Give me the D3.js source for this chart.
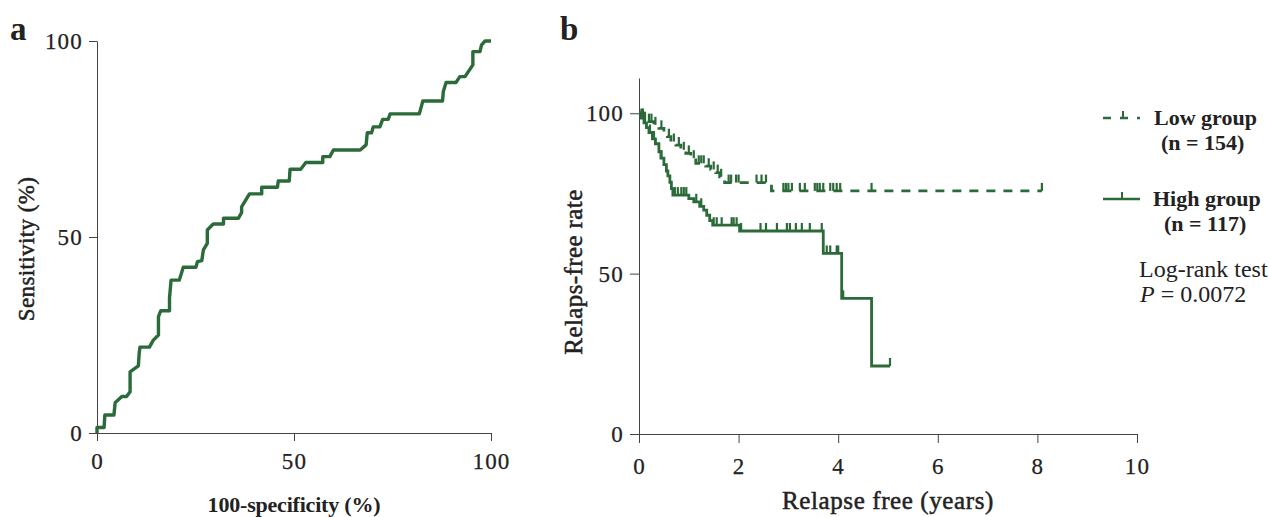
<!DOCTYPE html>
<html>
<head>
<meta charset="utf-8">
<script src="https://cdn.jsdelivr.net/npm/d3@7"></script>
<style>
  body { margin: 0; background: #fff; }
  svg text { font-family: "Liberation Serif", "Times New Roman", serif; fill: #222; }
  .axis path, .axis line { stroke: #444; stroke-width: 1; }
  .axis text { font-size: 23px; letter-spacing: 1.2px; stroke: #222; stroke-width: 0.25; }
  .title { stroke: #222; stroke-width: 0.5; }
</style>
</head>
<body>
<div id="chart"></div>
<script>
// panel a: ROC curve (100-specificity %, sensitivity %)
const rocFpr = [0, 0, 1.8, 2.0, 4.3, 4.6, 6.3, 7.5, 8.4, 8.4, 10.5, 10.7, 10.9, 13.3, 14.3, 15.6, 15.6, 16.2, 18.4, 18.4, 18.8, 20.9, 21.9, 25.1, 25.5, 26.6, 27, 28, 28, 29.5, 32.1, 32.1, 35.9, 36.7, 36.7, 38.7, 41.8, 41.8, 45.8, 46, 48.8, 49, 51.7, 53, 57.3, 57.3, 59.1, 60, 66.8, 68.3, 68.6, 69.7, 70.1, 71.8, 72.5, 73.9, 74.4, 81.8, 82.7, 87.7, 87.9, 88.6, 91.1, 92.1, 93.4, 95.4, 95.4, 97.2, 97.6, 98.5, 100];
const rocTpr = [0, 1.4, 1.4, 4.6, 4.6, 7.7, 9.3, 9.3, 10.5, 15.6, 17.1, 20.3, 21.9, 21.9, 23.7, 25, 29.7, 31.2, 31.2, 34.4, 39, 39, 42.3, 42.3, 43.7, 44, 46.7, 48.4, 51.8, 53.3, 53.3, 54.8, 54.8, 56.2, 57.7, 61, 61, 62.7, 62.7, 64.3, 64.3, 67.3, 67.3, 69, 69, 70.5, 70.5, 72.2, 72.2, 73.5, 76.6, 76.6, 78.1, 78.1, 80, 80, 81.4, 81.4, 84.7, 84.7, 87.1, 89.4, 89.4, 90.9, 90.9, 93.9, 97.3, 97.3, 99, 100, 100];
const rocTicks = [0, 50, 100];

// panel b: Kaplan-Meier steps (years, rate)
const lowTimes = [0, 0.05, 0.1, 0.17, 0.3, 0.4, 0.5, 0.57, 0.64, 0.74, 0.84, 0.94, 1.04, 1.14, 1.34, 1.44, 1.54, 1.62, 1.72, 2.66, 8.09];
const lowRates = [100, 99, 98, 97.4, 96.4, 95.3, 94.3, 92.7, 91.2, 90.1, 88.6, 87.5, 86, 84.4, 83.5, 82.5, 81.5, 80.2, 78.4, 75.8, 75.8];
const lowCensor = [0.05, 0.08, 0.12, 0.2, 0.25, 0.33, 0.45, 0.6, 0.7, 0.8, 0.9, 1.0, 1.1, 1.2, 1.25, 1.3, 1.4, 1.5, 1.58, 1.65, 1.8, 1.85, 1.95, 2.0, 2.36, 2.46, 2.55, 2.9, 2.95, 3.0, 3.07, 3.23, 3.33, 3.53, 3.58, 3.63, 3.7, 3.84, 3.9, 3.97, 4.04, 4.67, 8.09];
const highTimes = [0, 0.04, 0.1, 0.15, 0.2, 0.27, 0.33, 0.4, 0.44, 0.5, 0.55, 0.58, 0.62, 0.65, 0.68, 1.0, 1.1, 1.22, 1.3, 1.36, 1.42, 1.48, 2.02, 3.7, 4.07, 4.67, 5.04];
const highRates = [100, 98.5, 97, 95.5, 94, 92, 90.5, 88, 86, 84, 82, 80.5, 78.5, 76.5, 74.5, 73.4, 72.4, 71, 69.8, 68.2, 66.5, 65.1, 63.3, 56.3, 42.3, 21.2, 21.2];
const highCensor = [0.05, 0.12, 0.22, 0.3, 0.45, 0.72, 0.78, 0.85, 0.9, 0.95, 1.15, 1.25, 1.5, 1.56, 1.66, 1.86, 1.9, 1.96, 2.05, 2.44, 2.55, 2.77, 2.97, 3.03, 3.15, 3.27, 3.43, 3.67, 3.77, 3.84, 3.97, 4.0, 4.1, 5.04];
const kmXTicks = [0, 2, 4, 6, 8, 10];
const kmYTicks = [0, 50, 100];

const green = "#2b6a39";
const svg = d3.select("#chart").append("svg").attr("width", 1269).attr("height", 517);

// ---- panel a
const xA = d3.scaleLinear().domain([0, 100]).range([97, 491]);
const yA = d3.scaleLinear().domain([0, 100]).range([433, 41]);

svg.append("g").attr("class", "axis").attr("transform", "translate(0,433)")
  .call(d3.axisBottom(xA).tickValues(rocTicks).tickSize(8).tickSizeOuter(0).tickPadding(12));
svg.append("g").attr("class", "axis").attr("transform", "translate(97,0)")
  .call(d3.axisLeft(yA).tickValues(rocTicks).tickSize(8).tickSizeOuter(0).tickPadding(6));

svg.append("path")
  .datum(d3.zip(rocFpr, rocTpr))
  .attr("fill", "none").attr("stroke", green).attr("stroke-width", 3.4).attr("stroke-linejoin", "round")
  .attr("d", d3.line().x(d => xA(d[0])).y(d => yA(d[1])));

svg.append("text").text("a").attr("x", 10).attr("y", 40).attr("font-size", 33).attr("font-weight", "bold");
svg.append("text").attr("class", "title").text("Sensitivity (%)").attr("transform", "translate(34,249) rotate(-90)")
  .attr("text-anchor", "middle").attr("font-size", 23).attr("letter-spacing", 0.4);
svg.append("text").text("100-specificity (%)").attr("x", 294).attr("y", 512)
  .attr("text-anchor", "middle").attr("font-size", 22).attr("font-weight", "bold").attr("letter-spacing", -0.2);

// ---- panel b
const xB = d3.scaleLinear().domain([0, 10]).range([639, 1137]);
const yB = d3.scaleLinear().domain([0, 111]).range([434, 78]);

svg.append("g").attr("class", "axis").attr("transform", "translate(0,434)")
  .call(d3.axisBottom(xB).tickValues(kmXTicks).tickSize(9).tickSizeOuter(0).tickPadding(15));
svg.append("g").attr("class", "axis").attr("transform", "translate(639,0)")
  .call(d3.axisLeft(yB).tickValues(kmYTicks).tickSize(9).tickSizeOuter(0).tickPadding(6));

const stepLine = d3.line().curve(d3.curveStepAfter).x(d => xB(d[0])).y(d => yB(d[1]));
const rateAt = (times, rates, t) => rates[Math.max(0, d3.bisectRight(times, t) - 1)];

svg.append("path").datum(d3.zip(lowTimes, lowRates))
  .attr("fill", "none").attr("stroke", green).attr("stroke-width", 2.8).attr("stroke-dasharray", "9,8")
  .attr("d", stepLine);
svg.append("path").datum(d3.zip(highTimes, highRates))
  .attr("fill", "none").attr("stroke", green).attr("stroke-width", 2.8)
  .attr("d", stepLine);

svg.append("g").selectAll("line").data(lowCensor).join("line")
  .attr("x1", d => xB(d)).attr("x2", d => xB(d))
  .attr("y1", d => yB(rateAt(lowTimes, lowRates, d))).attr("y2", d => yB(rateAt(lowTimes, lowRates, d)) - 8)
  .attr("stroke", green).attr("stroke-width", 2.2);
svg.append("g").selectAll("line").data(highCensor).join("line")
  .attr("x1", d => xB(d)).attr("x2", d => xB(d))
  .attr("y1", d => yB(rateAt(highTimes, highRates, d))).attr("y2", d => yB(rateAt(highTimes, highRates, d)) - 8)
  .attr("stroke", green).attr("stroke-width", 2.2);

svg.append("text").text("b").attr("x", 560).attr("y", 40).attr("font-size", 33).attr("font-weight", "bold");
svg.append("text").attr("class", "title").text("Relaps-free rate").attr("transform", "translate(582,272) rotate(-90)")
  .attr("text-anchor", "middle").attr("font-size", 25).attr("letter-spacing", 0.4);
svg.append("text").attr("class", "title").text("Relapse free (years)").attr("x", 888).attr("y", 509)
  .attr("text-anchor", "middle").attr("font-size", 25).attr("letter-spacing", 0.6);

// legend
const legend = svg.append("g").attr("font-size", 22);
legend.append("line").attr("x1", 1103).attr("x2", 1140).attr("y1", 118).attr("y2", 118)
  .attr("stroke", green).attr("stroke-width", 2.6).attr("stroke-dasharray", "8,9");
legend.append("line").attr("x1", 1123).attr("x2", 1123).attr("y1", 118).attr("y2", 111)
  .attr("stroke", green).attr("stroke-width", 2);
legend.append("text").text("Low group").attr("x", 1154).attr("y", 125).attr("font-weight", "bold");
legend.append("text").text("(n = 154)").attr("x", 1161).attr("y", 150).attr("font-weight", "bold");
legend.append("line").attr("x1", 1103).attr("x2", 1140).attr("y1", 199).attr("y2", 199)
  .attr("stroke", green).attr("stroke-width", 2.6);
legend.append("line").attr("x1", 1122).attr("x2", 1122).attr("y1", 199).attr("y2", 192)
  .attr("stroke", green).attr("stroke-width", 2);
legend.append("text").text("High group").attr("x", 1153).attr("y", 206).attr("font-weight", "bold");
legend.append("text").text("(n = 117)").attr("x", 1164).attr("y", 231).attr("font-weight", "bold");
legend.append("text").text("Log-rank test").attr("x", 1139).attr("y", 277).attr("font-size", 24);
const pText = legend.append("text").attr("x", 1140).attr("y", 302).attr("font-size", 24);
pText.append("tspan").text("P").attr("font-style", "italic");
pText.append("tspan").text(" = 0.0072");
</script>
</body>
</html>
